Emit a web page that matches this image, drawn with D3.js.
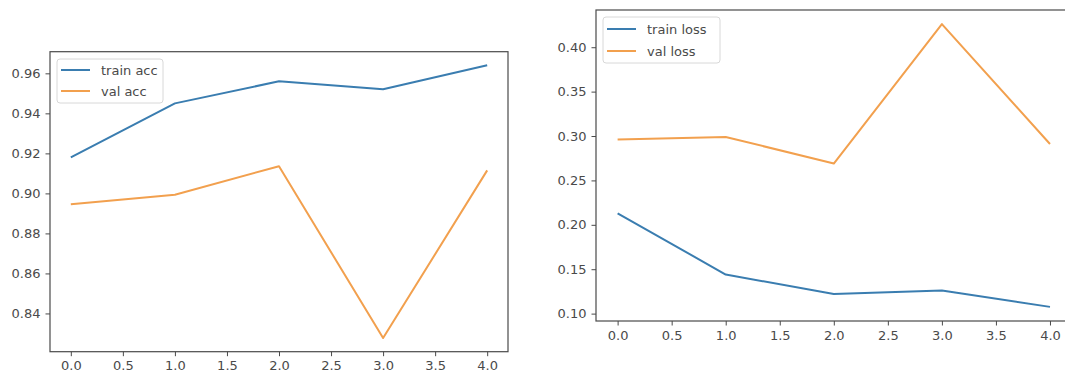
<!DOCTYPE html>
<html>
<head>
<meta charset="utf-8">
<script src="https://cdn.jsdelivr.net/npm/d3@7"></script>
<style>
  html, body { margin: 0; padding: 0; background: #fff; overflow: hidden; }
  svg { display: block; }
  text { font-family: "DejaVu Sans", sans-serif; }
</style>
</head>
<body>
<svg id="chart" width="1065" height="381"></svg>
<script>
// ---- data ----
const epochs = [0, 1, 2, 3, 4];
const xTicks = [0, 0.5, 1, 1.5, 2, 2.5, 3, 3.5, 4];

const trainAcc = [0.918, 0.945, 0.956, 0.952, 0.964];
const valAcc   = [0.8946, 0.8993, 0.9136, 0.8277, 0.9115];
const accTicks = [0.84, 0.86, 0.88, 0.90, 0.92, 0.94, 0.96];

const trainLoss = [0.213, 0.144, 0.122, 0.126, 0.1076];
const valLoss   = [0.296, 0.299, 0.269, 0.426, 0.291];
const lossTicks = [0.10, 0.15, 0.20, 0.25, 0.30, 0.35, 0.40];

const accLabels  = ["train acc", "val acc"];
const lossLabels = ["train loss", "val loss"];

const BLUE = "#3a7db0";
const ORANGE = "#f2a04e";
const AXIS = "#4a4a4a";
const TEXT = "#4a4a4a";
const FONT = 13;

const svg = d3.select("#chart");

function panel(cfg) {
  const {left, right, top, bottom, series, labels, yTicks, yFmt, legend} = cfg;
  const all = series.flat();
  const lo = d3.min(all), hi = d3.max(all), m = (hi - lo) * 0.05;
  const x = d3.scaleLinear().domain([-0.2, 4.2]).range([left, right]);
  const y = d3.scaleLinear().domain([lo - m, hi + m]).range([bottom, top]);
  const g = svg.append("g");

  // lines
  const line = d3.line().x((d, i) => x(epochs[i])).y(d => y(d));
  const colors = [BLUE, ORANGE];
  series.forEach((s, k) => {
    g.append("path").datum(s)
      .attr("fill", "none").attr("stroke", colors[k])
      .attr("stroke-width", 2).attr("stroke-linejoin", "round")
      .attr("d", line);
  });

  // axes
  const xa = g.append("g").attr("transform", `translate(0,${bottom})`)
    .call(d3.axisBottom(x).tickValues(xTicks).tickFormat(d3.format(".1f"))
      .tickSize(4.5).tickPadding(5));
  const ya = g.append("g").attr("transform", `translate(${left},0)`)
    .call(d3.axisLeft(y).tickValues(yTicks).tickFormat(d3.format(yFmt))
      .tickSize(4.5).tickPadding(5));
  [xa, ya].forEach(a => {
    a.select(".domain").remove();
    a.selectAll(".tick line").attr("stroke", AXIS).attr("stroke-width", 1);
    a.selectAll(".tick text").attr("fill", TEXT)
      .style("font-size", FONT + "px").style("font-family", "DejaVu Sans, sans-serif");
  });

  // frame
  g.append("rect").attr("x", left).attr("y", top)
    .attr("width", right - left).attr("height", bottom - top)
    .attr("fill", "none").attr("stroke", AXIS).attr("stroke-width", 1.2);

  // legend
  const lg = g.append("g");
  lg.append("rect").attr("x", legend.x).attr("y", legend.y)
    .attr("width", legend.w).attr("height", legend.h).attr("rx", 3)
    .attr("fill", "#fff").attr("fill-opacity", 0.85)
    .attr("stroke", "#d8d8d8").attr("stroke-width", 1);
  labels.forEach((lab, k) => {
    const cy = legend.y + legend.row0 + k * legend.dy;
    lg.append("line").attr("x1", legend.x + 4).attr("x2", legend.x + 33)
      .attr("y1", cy).attr("y2", cy)
      .attr("stroke", colors[k]).attr("stroke-width", 2);
    lg.append("text").attr("x", legend.x + 44).attr("y", cy)
      .attr("dy", "0.35em").attr("fill", TEXT)
      .style("font-size", FONT + "px").text(lab);
  });
}

panel({
  left: 50, right: 508, top: 51.7, bottom: 351.7,
  series: [trainAcc, valAcc], labels: accLabels,
  yTicks: accTicks, yFmt: ".2f",
  legend: {x: 57, y: 59, w: 106, h: 44, row0: 11, dy: 21}
});

panel({
  left: 596, right: 1071.6, top: 10, bottom: 321,
  series: [trainLoss, valLoss], labels: lossLabels,
  yTicks: lossTicks, yFmt: ".2f",
  legend: {x: 603, y: 17, w: 117, h: 46, row0: 12, dy: 22}
});
</script>
</body>
</html>
